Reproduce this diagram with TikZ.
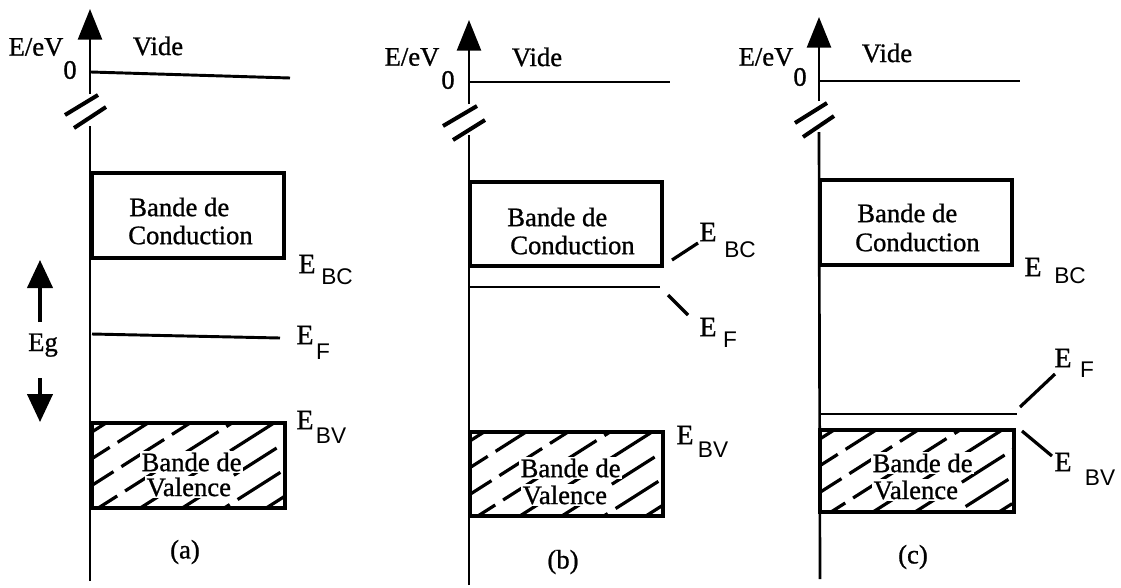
\documentclass[tikz,border=0pt]{standalone}
\usepackage{fontspec}
\setmainfont{Liberation Serif}[FakeBold=0.9]
\newfontfamily\heavyfont{Liberation Serif}[FakeBold=0.9]
\newfontfamily\handfont{Liberation Sans}
\usetikzlibrary{arrows.meta}
\tikzset{
 axisline/.style={line width=2pt},
 axisarrow/.style={line width=2pt,-{Triangle[length=23pt,width=18pt]}},
 egarrow/.style={line width=2.4pt,-{Triangle[length=21pt,width=19pt]}},
 level/.style={line width=2.2pt},
 band/.style={line width=2.6pt},
 brk/.style={line width=3pt},
 hatchline/.style={line width=2.4pt, dash pattern=on 38pt off 7pt},
 txt/.style={font=\heavyfont\fontsize{20}{22}\selectfont, inner sep=0pt},
 bandtxt/.style={txt, anchor=west},
 hatchtxt/.style={txt, anchor=west, fill=white, inner sep=1pt},
 ebig/.style={font=\heavyfont\fontsize{21}{21}\selectfont, inner sep=0pt},
 esub/.style={font=\handfont\fontsize{17}{17}\selectfont, inner sep=0pt},
 leader/.style={line width=2.4pt},
}
\newcommand\myhatch[4]{%
 \begin{scope}
 \clip (#1,#2) rectangle (#3,#4);
 \foreach \k in {0,...,8} {
   \draw[hatchline, dash phase={11pt*\k}] ({#1+14+42*\k},#2) -- ++(-140,89);
 }
 \end{scope}}
\begin{document}
\begin{tikzpicture}[x=0.75pt,y=-0.75pt]
\useasboundingbox (0,0) rectangle (1121,587);
% ---------------- Panel (a)
\coordinate (aBot) at (90,581);
\coordinate (aBrkLo) at (90,126);
\coordinate (aBrkHi) at (90,94);
\coordinate (aTop) at (90,9);
\draw[axisline] (aBot) -- (aBrkLo);
\draw[axisarrow] (aBrkHi) -- (aTop);
\coordinate (aS1a) at (65,115); \coordinate (aS1b) at (98,95);
\coordinate (aS2a) at (74,128); \coordinate (aS2b) at (106,107);
\draw[brk] (aS1a) -- (aS1b);
\draw[brk] (aS2a) -- (aS2b);
\node[txt] (aEeV) at (36,47) {E/eV};
\node[txt] (aZero) at (70,70) {0};
\node[txt] (aVide) at (158,46) {Vide};
\coordinate (aV1) at (91,72); \coordinate (aV2) at (290,78);
\draw[level] (aV1) -- (aV2);
\draw[band] (92,173) rectangle (284,258);
\node[bandtxt] (aCB1) at (129,207) {Bande de};
\node[bandtxt] (aCB2) at (128,235) {Conduction};
\node[ebig] (aEbc) at (307,264) {E};
\node[esub] (aEbcS) at (337,277) {BC};
\coordinate (aF1) at (92,334); \coordinate (aF2) at (280,338);
\draw[level] (aF1) -- (aF2);
\node[ebig] (aEf) at (305,335) {E};
\node[esub] (aEfS) at (323,352) {F};
\coordinate (aEgUpA) at (40,322); \coordinate (aEgUpB) at (40,260);
\draw[egarrow] (aEgUpA) -- (aEgUpB);
\node[txt, anchor=base] (aEg) at (43,351) {Eg};
\coordinate (aEgDnA) at (40,378); \coordinate (aEgDnB) at (40,422);
\draw[egarrow] (aEgDnA) -- (aEgDnB);
\myhatch{92}{423}{285}{508}
\draw[band] (92,423) rectangle (285,508);
\node[hatchtxt] (aVB1) at (140,462) {Bande de};
\node[hatchtxt] (aVB2) at (145,487) {Valence};
\node[ebig] (aEbv) at (305,420) {E};
\node[esub] (aEbvS) at (331,436) {BV};
\node[txt] (aLab) at (185,552) {(a)};
% ---------------- Panel (b)
\coordinate (bBot) at (469,585);
\coordinate (bBrkLo) at (469,135);
\coordinate (bBrkHi) at (469,104);
\coordinate (bTop) at (469,20);
\draw[axisline] (bBot) -- (bBrkLo);
\draw[axisarrow] (bBrkHi) -- (bTop);
\coordinate (bS1a) at (443,126); \coordinate (bS1b) at (477,106);
\coordinate (bS2a) at (453,140); \coordinate (bS2b) at (485,120);
\draw[brk] (bS1a) -- (bS1b);
\draw[brk] (bS2a) -- (bS2b);
\node[txt] (bEeV) at (412,57) {E/eV};
\node[txt] (bZero) at (448,80) {0};
\node[txt] (bVide) at (537,57) {Vide};
\coordinate (bV1) at (470,82); \coordinate (bV2) at (670,82);
\draw[level] (bV1) -- (bV2);
\draw[band] (470,182) rectangle (662,266);
\node[bandtxt] (bCB1) at (507,217) {Bande de};
\node[bandtxt] (bCB2) at (510,245) {Conduction};
\coordinate (bF1) at (470,287); \coordinate (bF2) at (660,287);
\draw[level] (bF1) -- (bF2);
\coordinate (bL1a) at (672,260); \coordinate (bL1b) at (698,243);
\draw[leader] (bL1a) -- (bL1b);
\node[ebig] (bEbc) at (708,232) {E};
\node[esub] (bEbcS) at (740,250) {BC};
\coordinate (bL2a) at (668,295); \coordinate (bL2b) at (688,315);
\draw[leader] (bL2a) -- (bL2b);
\node[ebig] (bEf) at (708,327) {E};
\node[esub] (bEfS) at (730,340) {F};
\myhatch{470}{432}{663}{516}
\draw[band] (470,432) rectangle (663,516);
\node[hatchtxt] (bVB1) at (519,468) {Bande de};
\node[hatchtxt] (bVB2) at (521,495) {Valence};
\node[ebig] (bEbv) at (685,435) {E};
\node[esub] (bEbvS) at (713,450) {BV};
\node[txt] (bLab) at (563,562) {(b)};
% ---------------- Panel (c)
\coordinate (cBot) at (820,579);
\coordinate (cBrkLo) at (819,132);
\coordinate (cBrkHi) at (819,101);
\coordinate (cTop) at (819,17);
\draw[axisline] (cBot) -- (cBrkLo);
\draw[axisarrow] (cBrkHi) -- (cTop);
\coordinate (cS1a) at (795,123); \coordinate (cS1b) at (827,103);
\coordinate (cS2a) at (803,137); \coordinate (cS2b) at (834,116);
\draw[brk] (cS1a) -- (cS1b);
\draw[brk] (cS2a) -- (cS2b);
\node[txt] (cEeV) at (766,57) {E/eV};
\node[txt] (cZero) at (800,77) {0};
\node[txt] (cVide) at (887,53) {Vide};
\coordinate (cV1) at (820,81); \coordinate (cV2) at (1020,81);
\draw[level] (cV1) -- (cV2);
\draw[band] (820,180) rectangle (1012,265);
\node[bandtxt] (cCB1) at (857,213) {Bande de};
\node[bandtxt] (cCB2) at (855,242) {Conduction};
\node[ebig] (cEbc) at (1033,267) {E};
\node[esub] (cEbcS) at (1070,276) {BC};
\coordinate (cF1) at (820,414); \coordinate (cF2) at (1017,414);
\draw[level] (cF1) -- (cF2);
\coordinate (cL1a) at (1020,407); \coordinate (cL1b) at (1055,374);
\draw[leader] (cL1a) -- (cL1b);
\node[ebig] (cEf) at (1063,358) {E};
\node[esub] (cEfS) at (1087,370) {F};
\myhatch{820}{430}{1014}{512}
\draw[band] (820,430) rectangle (1014,512);
\node[hatchtxt] (cVB1) at (871,463) {Bande de};
\node[hatchtxt] (cVB2) at (872,490) {Valence};
\coordinate (cL2a) at (1022,431); \coordinate (cL2b) at (1052,456);
\draw[leader] (cL2a) -- (cL2b);
\node[ebig] (cEbv) at (1063,462) {E};
\node[esub] (cEbvS) at (1100,478) {BV};
\node[txt] (cLab) at (913,557) {(c)};
\end{tikzpicture}
\end{document}
